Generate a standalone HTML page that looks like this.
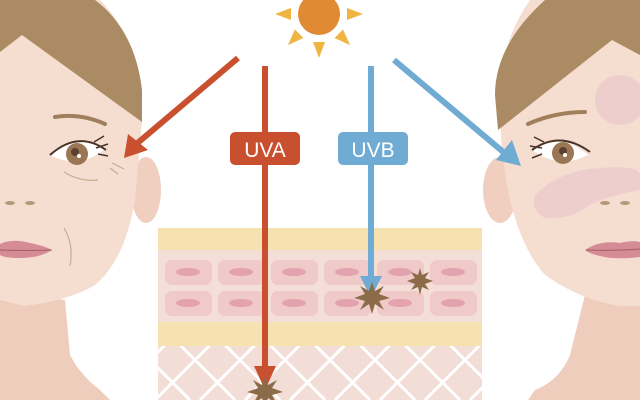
<!DOCTYPE html>
<html><head><meta charset="utf-8"><style>html,body{margin:0;padding:0;background:#fff}svg{display:block}</style></head>
<body>
<svg width="640" height="400" viewBox="0 0 640 400" xmlns="http://www.w3.org/2000/svg">
<defs>
<clipPath id="derm"><rect x="158" y="346" width="324" height="54"/></clipPath>
</defs>
<rect width="640" height="400" fill="#fff"/>

<!-- LEFT FACE -->
<path d="M0,290 L65,300 L70,355 Q80,375 100,390 L110,400 L0,400 Z" fill="#efcdbc"/>
<ellipse cx="146" cy="190" rx="15" ry="33" fill="#f0cfc0"/>
<path d="M0,0 L100,0 Q140,40 142,120 L135,200 Q125,260 95,285 Q70,300 25,306 L0,300 Z" fill="#f5ddd0"/>
<path d="M0,0 L95,0 Q135,30 142,90 L142,122 L22,35 L0,52 Z" fill="#ab8b64"/>
<path d="M55,117 Q80,113 105,124" stroke="#a0805c" stroke-width="4" fill="none" stroke-linecap="round"/>
<path d="M50,155 Q78,130 104,150 Q78,170 50,155 Z" fill="#fff"/>
<circle cx="77" cy="154" r="11" fill="#9a7654"/>
<circle cx="75" cy="152" r="4" fill="#5a4030"/>
<circle cx="79" cy="156" r="2" fill="#fff"/>
<path d="M50,155 Q78,130 106,150" stroke="#4a3428" stroke-width="2" fill="none"/>
<path d="M94,142 l10,-6 M96,148 l12,-4 M98,154 l10,2" stroke="#4a3428" stroke-width="1.5"/>
<path d="M64,172 Q80,182 98,180 M112,163 l12,6 M110,168 l8,6" stroke="#c8ab90" stroke-width="1.2" fill="none"/>
<ellipse cx="10" cy="203" rx="5" ry="2" fill="#b59a7a"/>
<ellipse cx="30" cy="203" rx="5" ry="2" fill="#b59a7a"/>
<path d="M64,228 Q74,245 70,266" stroke="#c8ab90" stroke-width="1.2" fill="none"/>
<path d="M0,244 Q12,238 30,243 Q45,246 52,250 Q40,258 20,258 Q5,258 0,255 Z" fill="#d58c94"/>
<path d="M0,250 Q25,251 52,250" stroke="#a06068" stroke-width="1" fill="none"/>

<!-- RIGHT FACE -->
<path d="M640,290 L585,295 L570,355 Q560,380 535,390 L528,400 L640,400 Z" fill="#efcdbc"/>
<ellipse cx="500" cy="190" rx="17" ry="33" fill="#f0cfc0"/>
<path d="M640,0 L530,0 Q495,50 500,120 Q505,230 545,275 Q580,300 620,306 L640,306 Z" fill="#f5ddd0"/>
<path d="M640,0 L545,0 Q495,45 495,95 L498,130 L612,40 L640,55 Z" fill="#ab8b64"/>
<ellipse cx="620" cy="100" rx="25" ry="25" fill="#eccbcc" opacity="0.8"/>
<path d="M535,195 Q560,170 600,168 Q640,165 640,175 L640,190 Q610,195 590,205 Q570,220 545,218 Q530,210 535,195 Z" fill="#eccbcc" opacity="0.8"/>
<path d="M528,124 Q555,112 585,112" stroke="#a0805c" stroke-width="4" fill="none" stroke-linecap="round"/>
<path d="M588,155 Q560,130 532,150 Q560,170 588,155 Z" fill="#fff"/>
<circle cx="563" cy="153" r="11" fill="#9a7654"/>
<circle cx="563" cy="151" r="4" fill="#5a4030"/>
<circle cx="565" cy="155" r="2" fill="#fff"/>
<path d="M590,152 Q560,130 532,150" stroke="#4a3428" stroke-width="2" fill="none"/>
<path d="M544,142 l-10,-5 M542,148 l-12,-2 M542,154 l-10,4" stroke="#4a3428" stroke-width="1.5"/>
<ellipse cx="605" cy="203" rx="5" ry="2" fill="#b59a7a"/>
<ellipse cx="625" cy="203" rx="5" ry="2" fill="#b59a7a"/>
<path d="M585,250 Q600,240 620,243 Q632,240 640,242 L640,257 Q615,260 600,256 Q590,254 585,250 Z" fill="#d58c94"/>
<path d="M586,250 Q615,251 640,249" stroke="#a06068" stroke-width="1" fill="none"/>

<!-- SKIN DIAGRAM -->
<rect x="158" y="228" width="324" height="22" fill="#f5e2b0"/>
<rect x="158" y="250" width="324" height="72" fill="#f4dfd8"/>
<rect x="158" y="322" width="324" height="24" fill="#f5e2b0"/>
<rect x="158" y="346" width="324" height="54" fill="#f3ddd7"/>
<g clip-path="url(#derm)" stroke="#fff" stroke-width="3">
<path d="M110,400 L170,340 M155,400 L215,340 M200,400 L260,340 M245,400 L305,340 M290,400 L350,340 M335,400 L395,340 M380,400 L440,340 M425,400 L485,340 M470,400 L530,340"/>
<path d="M130,340 L190,400 M175,340 L235,400 M220,340 L280,400 M265,340 L325,400 M310,340 L370,400 M355,340 L415,400 M400,340 L460,400 M445,340 L505,400"/>
</g>
<g fill="#efcac8">
<rect x="165" y="260" width="47" height="25" rx="7"/><rect x="218" y="260" width="47" height="25" rx="7"/><rect x="271" y="260" width="47" height="25" rx="7"/><rect x="324" y="260" width="47" height="25" rx="7"/><rect x="377" y="260" width="47" height="25" rx="7"/><rect x="430" y="260" width="47" height="25" rx="7"/>
<rect x="165" y="291" width="47" height="25" rx="7"/><rect x="218" y="291" width="47" height="25" rx="7"/><rect x="271" y="291" width="47" height="25" rx="7"/><rect x="324" y="291" width="47" height="25" rx="7"/><rect x="377" y="291" width="47" height="25" rx="7"/><rect x="430" y="291" width="47" height="25" rx="7"/>
</g>
<g fill="#e3a2ad">
<ellipse cx="188" cy="272" rx="12" ry="4"/><ellipse cx="241" cy="272" rx="12" ry="4"/><ellipse cx="294" cy="272" rx="12" ry="4"/><ellipse cx="347" cy="272" rx="12" ry="4"/><ellipse cx="400" cy="272" rx="12" ry="4"/><ellipse cx="453" cy="272" rx="12" ry="4"/>
<ellipse cx="188" cy="303" rx="12" ry="4"/><ellipse cx="241" cy="303" rx="12" ry="4"/><ellipse cx="294" cy="303" rx="12" ry="4"/><ellipse cx="347" cy="303" rx="12" ry="4"/><ellipse cx="400" cy="303" rx="12" ry="4"/><ellipse cx="453" cy="303" rx="12" ry="4"/>
</g>

<!-- SUN -->
<g fill="#f0b443">
<g transform="translate(319,14)">
<polygon points="-6,28 6,28 0,44" transform="rotate(0)"/>
<polygon points="-6,28 6,28 0,44" transform="rotate(45)"/>
<polygon points="-6,28 6,28 0,44" transform="rotate(-45)"/>
<polygon points="-6,28 6,28 0,44" transform="rotate(90)"/>
<polygon points="-6,28 6,28 0,44" transform="rotate(-90)"/>
<polygon points="-6,28 6,28 0,44" transform="rotate(135)"/>
<polygon points="-6,28 6,28 0,44" transform="rotate(-135)"/>
</g>
</g>
<circle cx="319" cy="14" r="21" fill="#e08a33"/>

<!-- UVA ARROWS -->
<g fill="#c9502f" stroke="none">
<rect x="262" y="66" width="6" height="302"/>
<polygon points="254,366 276,366 265,390"/>
<path d="M238,58 L134,146" stroke="#c9502f" stroke-width="6"/>
<polygon points="124,158 128,134 148,150"/>
<rect x="230" y="132" width="70" height="33" rx="5"/>
</g>
<text x="265" y="157" font-family="Liberation Sans, sans-serif" font-size="21" fill="#fff" text-anchor="middle">UVA</text>

<!-- UVB ARROWS -->
<g fill="#70abd3">
<rect x="368" y="66" width="6" height="212"/>
<polygon points="360,276 382,276 371,298"/>
<path d="M394,60 L508,156" stroke="#70abd3" stroke-width="6"/>
<polygon points="521,166 496,160 512,140"/>
<rect x="338" y="132" width="70" height="33" rx="5"/>
</g>
<text x="373" y="157" font-family="Liberation Sans, sans-serif" font-size="21" fill="#fff" text-anchor="middle">UVB</text>

<!-- STARS -->
<g fill="#8c6c48">
<polygon points="265,376 268,385 277,380 272,388 283,392 272,395 277,404 268,398 265,408 262,398 253,404 258,395 247,392 258,388 253,380 262,385"/>
<polygon points="372,282 375,291 384,286 379,294 390,298 379,301 384,310 375,304 372,314 369,304 360,310 365,301 354,298 365,294 360,286 369,291"/>
<polygon points="420,268 422,275 429,272 425,278 433,281 425,284 429,290 422,287 420,295 418,287 411,290 415,284 407,281 415,278 411,272 418,275"/>
</g>
</svg>
</body></html>
